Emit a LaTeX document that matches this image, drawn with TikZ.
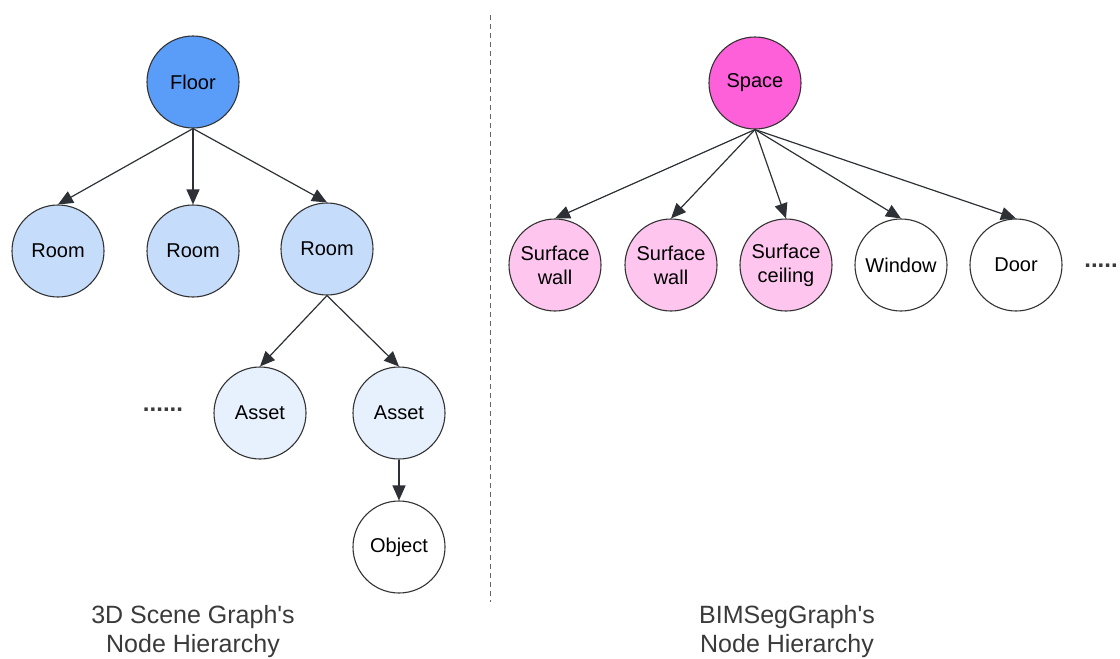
\documentclass[tikz,border=0pt]{standalone}
\usepackage{fontspec}
\setmainfont{Liberation Sans}
% same face without TeX ligatures, so an apostrophe stays straight
\newfontfamily\capfont{Liberation Sans}
\usetikzlibrary{arrows.meta}

\definecolor{floorblue}{RGB}{90,157,249}
\definecolor{roomblue}{RGB}{198,220,251}
\definecolor{assetblue}{RGB}{231,241,253}
\definecolor{spacepink}{RGB}{253,96,217}
\definecolor{surfpink}{RGB}{254,198,239}
\definecolor{edgegray}{RGB}{51,51,51}
\definecolor{arrowgray}{RGB}{45,49,54}
\definecolor{captiongray}{RGB}{58,58,58}

\tikzset{
  gnode/.style={circle, draw=edgegray, line width=1.1pt, minimum size=92pt,
    inner sep=0pt, align=center, font=\fontsize{20}{24}\selectfont},
  floornode/.style={gnode, fill=floorblue},
  roomnode/.style={gnode, fill=roomblue},
  assetnode/.style={gnode, fill=assetblue},
  spacenode/.style={gnode, fill=spacepink},
  surfnode/.style={gnode, fill=surfpink},
  plainnode/.style={gnode, fill=white},
  link/.style={draw=arrowgray, line width=1.2pt,
    -{Triangle[length=15pt,width=13pt]}},
  moredots/.style={font=\fontsize{24}{26}\selectfont\bfseries, text=captiongray, inner sep=0pt},
  caption/.style={align=center, text=captiongray, font=\capfont\fontsize{25}{29}\selectfont},
}

\begin{document}
\begin{tikzpicture}[x=1pt, y=-1pt]
  \useasboundingbox (0,0) rectangle (1120,659);

  % divider between the two hierarchies
  \coordinate (divtop) at (490,15);
  \coordinate (divbot) at (490,602);
  \draw[gray!80!black, line width=1pt, dash pattern=on 5pt off 4pt] (divtop) -- (divbot);

  % 3D scene graph hierarchy
  \node[floornode] (floor) at (193,82) {Floor};
  \node[roomnode] (room1) at (58,251) {Room};
  \node[roomnode] (room2) at (193,251) {Room};
  \node[roomnode] (room3) at (327,249) {Room};
  \node[assetnode] (asset1) at (260,413) {Asset};
  \node[assetnode] (asset2) at (399,413) {Asset};
  \node[plainnode] (object) at (399,547) {Object};
  \node[moredots] (dotsL) at (163,410) {......};

  \draw[link] (floor.south) -- (room1.north);
  \draw[link] (floor.south) -- (room2.north);
  \draw[link] (floor.south) -- (room3.north);
  \draw[link] (room3.south) -- (asset1.north);
  \draw[link] (room3.south) -- (asset2.north);
  \draw[link] (asset2.south) -- (object.north);

  % BIMSegGraph hierarchy
  \node[spacenode] (space) at (755,83) {Space};
  \node[surfnode] (wall1) at (555,265) {Surface\\wall};
  \node[surfnode] (wall2) at (671,265) {Surface\\wall};
  \node[surfnode] (ceiling) at (786,265) {Surface\\ceiling};
  \node[plainnode] (window) at (901,265) {Window};
  \node[plainnode] (door) at (1016,265) {Door};
  \node[moredots] (dotsR) at (1101,266) {.....};

  \draw[link] (space.south) -- (wall1.north);
  \draw[link] (space.south) -- (wall2.north);
  \draw[link] (space.south) -- (ceiling.north);
  \draw[link] (space.south) -- (window.north);
  \draw[link] (space.south) -- (door.north);

  % captions
  \node[caption] (capL) at (193,632) {3D Scene Graph's\\Node Hierarchy};
  \node[caption] (capR) at (787,632) {BIMSegGraph's\\Node Hierarchy};
\end{tikzpicture}
\end{document}
